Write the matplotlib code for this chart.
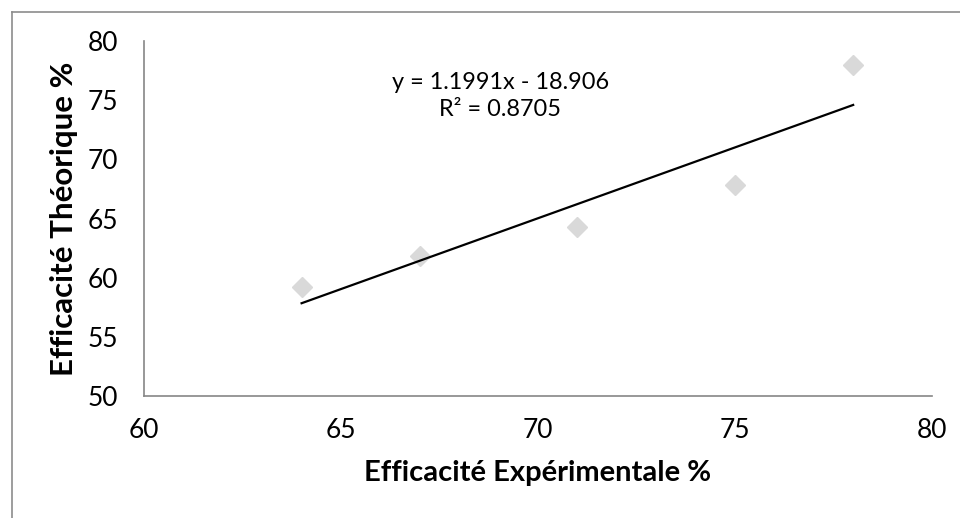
import numpy as np
import matplotlib
matplotlib.use("Agg")
from matplotlib import pyplot as plt
from matplotlib.lines import Line2D

# experimental vs theoretical efficiency (%)
exp_eff = [64, 67, 71, 75, 78]
theo_eff = [59.2, 61.8, 64.3, 67.8, 78.0]

eq_text = "y = 1.1991x - 18.906"
r2_text = "R² = 0.8705"

plt.rcParams['font.family'] = ['Lato', 'DejaVu Sans']

fig = plt.figure(figsize=(9.6, 5.18), dpi=100)
ax = fig.add_axes([0.15, 0.2355, 0.8208, 0.6853])

ax.plot(exp_eff, theo_eff, linestyle='none', marker='D', markersize=10,
        color='#d9d9d9', markeredgecolor='#d9d9d9', zorder=2)

# linear trendline
coef = np.polyfit(exp_eff, theo_eff, 1)
xs = np.array([min(exp_eff), max(exp_eff)])
ax.plot(xs, np.polyval(coef, xs), color='black', linewidth=1.6, zorder=3)

ax.annotate(eq_text + "\n" + r2_text, xy=(0.452, 0.845), xycoords='axes fraction',
            ha='center', va='center', fontsize=16.9, linespacing=1.3)

ax.set_xlim(60, 80)
ax.set_ylim(50, 80)
ax.set_xticks([60, 65, 70, 75, 80])
ax.set_yticks([50, 55, 60, 65, 70, 75, 80])
ax.tick_params(length=0, labelsize=19)
ax.tick_params(axis='x', pad=16)
ax.tick_params(axis='y', pad=18.7)

for s in ['top', 'right']:
    ax.spines[s].set_visible(False)
for s in ['left', 'bottom']:
    ax.spines[s].set_color('#868686')
    ax.spines[s].set_linewidth(1.2)

ax.set_xlabel('Efficacité Expérimentale %', fontsize=21, fontweight='bold', labelpad=12)
ax.set_ylabel('Efficacité Théorique %', fontsize=22.5, fontweight='bold', labelpad=7)

# outer chart border (left and top visible)
fig.add_artist(Line2D([12/960, 12/960], [0, 1 - 12/518], color='#8c8c8c', linewidth=1.2))
fig.add_artist(Line2D([12/960, 1], [1 - 12/518, 1 - 12/518], color='#8c8c8c', linewidth=1.2))

fig.savefig('out.png', dpi=100)
